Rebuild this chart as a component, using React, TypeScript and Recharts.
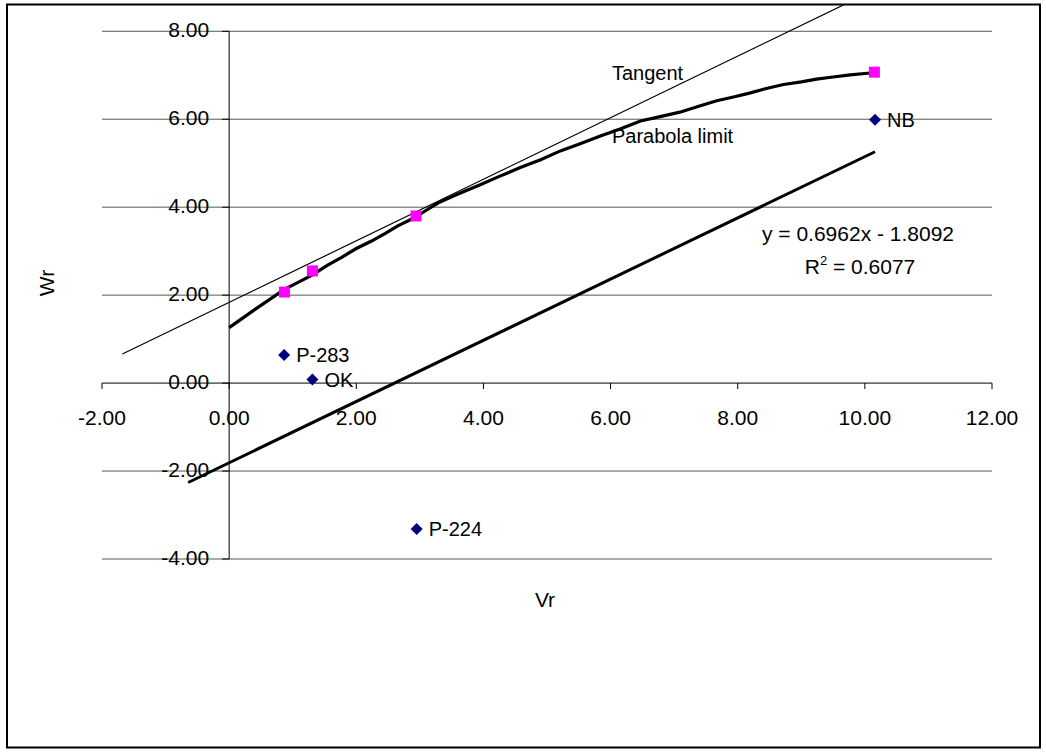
import React from 'react';
import { ComposedChart, Scatter, XAxis, YAxis, ReferenceLine, ReferenceDot } from 'recharts';

const xTicks = [-2, 0, 2, 4, 6, 8, 10, 12];
const yTicks = [-4, -2, 0, 2, 4, 6, 8];

// observed points (diamonds)
const pointNames = ['P-283', 'OK', 'P-224', 'NB'];
const pointX = [0.865, 1.31, 2.95, 10.16];
const pointY = [0.64, 0.08, -3.32, 5.99];

// limit points (squares)
const limitX = [0.87, 1.31, 2.94, 10.15];
const limitY = [2.07, 2.55, 3.8, 7.07];

// parabola limit curve
const parabolaX = [0, 0.43, 0.87, 1.1, 1.31, 1.55, 1.77, 2.0, 2.24, 2.45, 2.66, 2.93, 3.1, 3.29, 3.6, 3.95, 4.25, 4.58, 4.9, 5.21, 5.5, 5.84, 6.15, 6.47, 6.78, 7.09, 7.4, 7.67, 7.95, 8.2, 8.45, 8.72, 9.0, 9.24, 9.5, 9.77, 10.0, 10.15];
const parabolaY = [1.26, 1.7, 2.13, 2.3, 2.46, 2.68, 2.86, 3.06, 3.23, 3.4, 3.58, 3.77, 3.93, 4.1, 4.3, 4.51, 4.7, 4.9, 5.08, 5.28, 5.43, 5.62, 5.78, 5.96, 6.06, 6.16, 6.3, 6.42, 6.51, 6.6, 6.7, 6.79, 6.85, 6.91, 6.96, 7.01, 7.04, 7.06];

// linear trendline of the diamonds
const trendX = [-0.645, 10.16];
const trendY = [-2.26, 5.26];

// tangent
const tangentX = [-1.68, 9.68];
const tangentY = [0.66, 8.61];

const zip = (xs: number[], ys: number[]) => xs.map((x, i) => ({ x, y: ys[i] }));

const pointData = pointX.map((x, i) => ({ x, y: pointY[i], name: pointNames[i] }));
const limitData = zip(limitX, limitY);
const parabolaData = zip(parabolaX, parabolaY);
const trendData = zip(trendX, trendY);
const tangentData = zip(tangentX, tangentY);

const FONT = '"Liberation Sans", Arial, sans-serif';

const Empty = () => <g />;

const Diamond = (p: any) => (
  <g>
    <polygon
      points={`${p.cx},${p.cy - 6} ${p.cx + 6},${p.cy} ${p.cx},${p.cy + 6} ${p.cx - 6},${p.cy}`}
      fill="#000080"
    />
    <text x={p.cx + 12} y={p.cy + 7} fontSize={20} fontFamily={FONT} fill="#000">
      {p.payload?.name ?? p.name}
    </text>
  </g>
);

const Square = (p: any) => (
  <rect x={p.cx - 5.5} y={p.cy - 5.5} width={11} height={11} fill="#FF00FF" />
);

const XTick = (p: any, label: string) => (
  <g>
    <line x1={p.cx} y1={p.cy} x2={p.cx} y2={p.cy + 6} stroke="#000" />
    <text x={p.cx} y={p.cy + 42} textAnchor="middle" fontSize={21} fontFamily={FONT} fill="#000">
      {label}
    </text>
  </g>
);

const YTick = (p: any, label: string) => (
  <g>
    <line x1={p.cx - 7} y1={p.cy} x2={p.cx} y2={p.cy} stroke="#000" />
    <text x={p.cx - 20} y={p.cy + 5.5} textAnchor="end" fontSize={21} fontFamily={FONT} fill="#000">
      {label}
    </text>
  </g>
);

export default function App() {
  return (
    <div style={{ position: 'absolute', left: 0, top: 0, width: 1046, height: 755, background: '#fff' }}>
      <ComposedChart width={1046} height={755} margin={{ top: 4, right: 54, bottom: 196, left: 102 }}>
        <XAxis type="number" dataKey="x" domain={[-2, 12]} allowDataOverflow hide />
        <YAxis type="number" dataKey="y" domain={[-4, 8.62]} allowDataOverflow hide />

        {yTicks.filter((t) => t !== 0).map((t) => (
          <ReferenceLine key={`g${t}`} y={t} stroke="#555" strokeWidth={1} ifOverflow="visible" />
        ))}
        <ReferenceLine y={0} stroke="#000" strokeWidth={1} ifOverflow="visible" />
        <ReferenceLine segment={[{ x: 0, y: -4 }, { x: 0, y: 8 }]} stroke="#000" strokeWidth={1} ifOverflow="visible" />

        {xTicks.map((t) => (
          <ReferenceDot key={`xt${t}`} x={t} y={0} ifOverflow="visible" shape={(p: any) => XTick(p, t.toFixed(2))} />
        ))}
        {yTicks.map((t) => (
          <ReferenceDot key={`yt${t}`} x={0} y={t} ifOverflow="visible" shape={(p: any) => YTick(p, t.toFixed(2))} />
        ))}

        <Scatter data={tangentData} line={{ stroke: '#000', strokeWidth: 1.2 }} shape={Empty} isAnimationActive={false} />
        <Scatter data={trendData} line={{ stroke: '#000', strokeWidth: 3 }} shape={Empty} isAnimationActive={false} />
        <Scatter data={parabolaData} line={{ stroke: '#000', strokeWidth: 3.2 }} shape={Empty} isAnimationActive={false} />
        <Scatter data={limitData} shape={Square} isAnimationActive={false} />
        <Scatter data={pointData} shape={Diamond} isAnimationActive={false} />
      </ComposedChart>

      <svg width={1046} height={755} style={{ position: 'absolute', left: 0, top: 0, pointerEvents: 'none' }}>
        <rect x={7} y={4.5} width={1033} height={743} fill="none" stroke="#000" strokeWidth={2} />
        <text x={612} y={80} fontSize={20} fontFamily={FONT} fill="#000">Tangent</text>
        <text x={612} y={143} fontSize={20} fontFamily={FONT} fill="#000">Parabola limit</text>
        <text x={858} y={240.5} textAnchor="middle" fontSize={21} fontFamily={FONT} fill="#000">y = 0.6962x - 1.8092</text>
        <text x={860} y={274} textAnchor="middle" fontSize={21} fontFamily={FONT} fill="#000">
          R<tspan fontSize={13} dy={-9}>2</tspan><tspan dy={9}> = 0.6077</tspan>
        </text>
        <text x={545} y={607} textAnchor="middle" fontSize={21} fontFamily={FONT} fill="#000">Vr</text>
        <text
          x={47}
          y={283}
          textAnchor="middle"
          fontSize={21}
          fontFamily={FONT}
          fill="#000"
          transform="rotate(-90 47 283)"
          dy={7}
        >
          Wr
        </text>
      </svg>
    </div>
  );
}
